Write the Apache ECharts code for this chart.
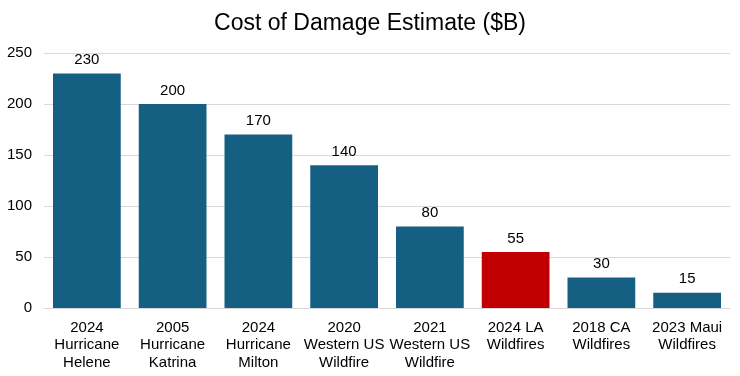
<!DOCTYPE html>
<html>
<head>
<meta charset="utf-8">
<script src="https://cdn.jsdelivr.net/npm/echarts@6/dist/echarts.min.js"></script>
<style>
  html, body { margin: 0; padding: 0; background: #fff; }
  #chart { width: 740px; height: 376px; }
</style>
</head>
<body>
<div id="chart"></div>
<script>
const categories = [
  "2024\nHurricane\nHelene",
  "2005\nHurricane\nKatrina",
  "2024\nHurricane\nMilton",
  "2020\nWestern US\nWildfire",
  "2021\nWestern US\nWildfire",
  "2024 LA\nWildfires",
  "2018 CA\nWildfires",
  "2023 Maui\nWildfires"
];
const costs = [230, 200, 170, 140, 80, 55, 30, 15];
const highlightIndex = 5;

const font = "Liberation Sans, Arial, sans-serif";

let chart = echarts.init(document.getElementById("chart"));
chart.setOption({
  animation: false,
  title: {
    text: "Cost of Damage Estimate ($B)",
    left: "center",
    top: 7,
    textStyle: { fontFamily: font, fontSize: 23, fontWeight: "normal", color: "#000" }
  },
  grid: { left: 44, right: 10, top: 53, bottom: 68 },
  xAxis: {
    type: "category",
    data: categories,
    axisTick: { show: false },
    axisLine: { lineStyle: { color: "#d9d9d9", width: 1 } },
    axisLabel: {
      interval: 0,
      fontFamily: font,
      fontSize: 15,
      lineHeight: 17.5,
      color: "#000",
      margin: 11
    }
  },
  yAxis: {
    type: "value",
    min: 0,
    max: 250,
    interval: 50,
    axisLine: { show: false },
    axisTick: { show: false },
    splitLine: { lineStyle: { color: "#d9d9d9", width: 1 } },
    axisLabel: { fontFamily: font, fontSize: 15, color: "#000", margin: 12 }
  },
  series: [
    {
      type: "bar",
      barCategoryGap: "21%",
      data: costs.map((v, i) => ({
        value: v,
        itemStyle: { color: i === highlightIndex ? "#C00000" : "#156082" }
      })),
      label: {
        show: true,
        position: "top",
        distance: 6,
        fontFamily: font,
        fontSize: 15,
        color: "#000"
      }
    }
  ]
});
</script>
</body>
</html>
